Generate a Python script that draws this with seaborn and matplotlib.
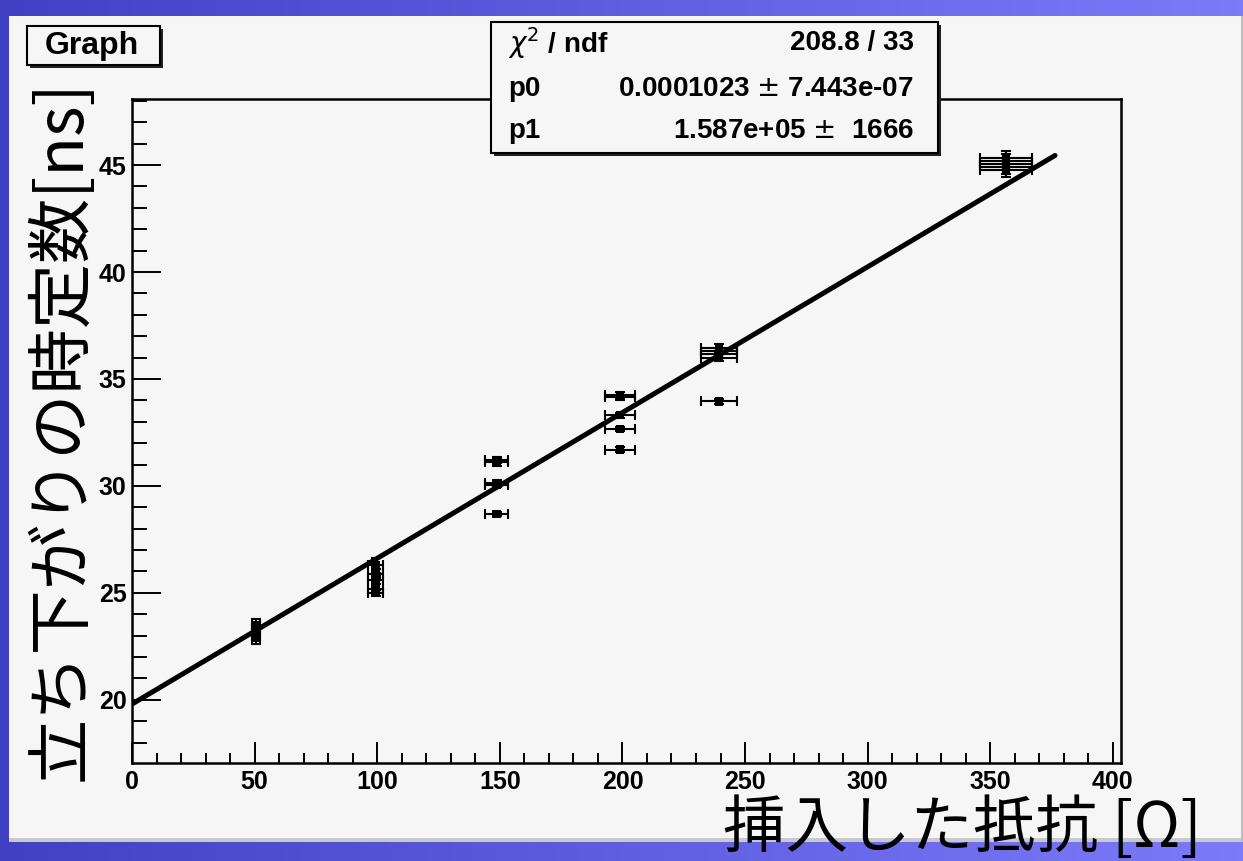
import numpy as np
import pandas as pd
import matplotlib
matplotlib.use("Agg")
import matplotlib.pyplot as plt
from matplotlib.patches import Rectangle
from matplotlib.colors import LinearSegmentedColormap
from matplotlib.ticker import MultipleLocator, FixedLocator
import seaborn as sns

# ---------------- data ----------------
resistance = [50.6, 50.6, 50.6, 50.6,
              99.3, 99.3, 99.3, 99.3, 99.3,
              148.7, 148.7, 148.7, 148.7, 148.7,
              199.0, 199.0, 199.0, 199.0, 199.0,
              239.4, 239.4, 239.4, 239.4, 239.4,
              356.4, 356.4, 356.4, 356.4, 356.4]
resistance_err = [1.5, 1.5, 1.5, 1.5,
                  3.0, 3.0, 3.0, 3.0, 3.0,
                  4.6, 4.6, 4.6, 4.6, 4.6,
                  6.1, 6.1, 6.1, 6.1, 6.1,
                  7.3, 7.3, 7.3, 7.3, 7.3,
                  10.8, 10.8, 10.8, 10.8, 10.8]
time_const = [23.5, 23.3, 23.1, 22.9,
              26.3, 25.9, 25.6, 25.2, 25.0,
              31.2, 31.1, 30.15, 30.05, 28.7,
              34.25, 34.15, 33.3, 32.65, 31.7,
              36.45, 36.3, 36.15, 36.0, 33.95,
              45.35, 45.2, 45.05, 44.9, 44.75]
time_const_err = [0.3, 0.3, 0.3, 0.3,
                  0.35, 0.2, 0.2, 0.2, 0.15,
                  0.15, 0.15, 0.12, 0.12, 0.1,
                  0.12, 0.12, 0.12, 0.1, 0.1,
                  0.2, 0.15, 0.15, 0.15, 0.1,
                  0.3, 0.3, 0.3, 0.3, 0.3]

fit_x = [0.0, 376.4]
fit_y = [19.8, 45.45]

x_ticks = [0, 50, 100, 150, 200, 250, 300, 350, 400]
y_ticks = [20, 25, 30, 35, 40, 45]

stats_rows = [(r"$\chi^{2}$ / ndf", "208.8 / 33"),
              ("p0", "0.0001023 $\\pm$ 7.443e-07"),
              ("p1", "1.587e+05 $\\pm$  1666")]
title_text = "Graph"
y_label = "立ち下がりの時定数[ns]"
x_label = "挿入した抵抗 [Ω]"

# ---------------- style ----------------
sns.set_theme(style="ticks")
plt.rcParams['font.family'] = ['Liberation Sans', 'Noto Sans CJK JP', 'DejaVu Sans']
plt.rcParams['mathtext.fontset'] = 'dejavusans'
plt.rcParams['text.color'] = 'black'
plt.rcParams['xtick.color'] = 'black'
plt.rcParams['ytick.color'] = 'black'
plt.rcParams['xtick.labelcolor'] = 'black'
plt.rcParams['ytick.labelcolor'] = 'black'

W, H = 1243, 861
fig = plt.figure(figsize=(W / 100, H / 100), dpi=100)

def fx(x):
    return x / W

def fy(y):
    return 1 - y / H

# background: blue gradient with light panel
bg = fig.add_axes([0, 0, 1, 1], zorder=-10)
grad = np.linspace(0, 1, 256).reshape(1, -1)
cmap = LinearSegmentedColormap.from_list("bl", ["#4141c4", "#7b7bfa"])
bg.imshow(grad, cmap=cmap, extent=[0, W, H, 0], aspect='auto')
bg.add_patch(Rectangle((9, 16), W - 9, 830 - 16 + 12, fc="#c9c9c9", ec="none"))
bg.add_patch(Rectangle((9, 16), W - 11, 822, fc="#f6f6f6", ec="none"))
bg.add_patch(Rectangle((W - 2, 16), 2, 826, fc="#bdbdbd", ec="none"))
bg.set_xlim(0, W)
bg.set_ylim(H, 0)
bg.axis("off")

# main axes
left, right, top, bottom = 132, 1121, 99, 763.3
ax = fig.add_axes([fx(left), fy(bottom), (right - left) / W, (bottom - top) / H])
ax.set_facecolor("#f6f6f6")

df = pd.DataFrame({"R": resistance, "T": time_const,
                   "Rerr": resistance_err, "Terr": time_const_err})
fit_df = pd.DataFrame({"R": fit_x, "T": fit_y})

sns.lineplot(data=fit_df, x="R", y="T", ax=ax, color="black", lw=3.6,
             sort=False, estimator=None, zorder=3)
ax.errorbar(df["R"], df["T"], xerr=df["Rerr"], yerr=df["Terr"], fmt="none",
            ecolor="black", elinewidth=1.5, capsize=3.5, capthick=1.5, zorder=4)
sns.scatterplot(data=df, x="R", y="T", ax=ax, marker="s", s=36, color="black",
                edgecolor="none", zorder=5)

ax.set_xlim(0, 403.3)
ax.set_ylim(17.03, 48.09)
ax.xaxis.set_major_locator(FixedLocator(x_ticks))
ax.yaxis.set_major_locator(FixedLocator(y_ticks))
ax.xaxis.set_minor_locator(MultipleLocator(10))
ax.yaxis.set_minor_locator(MultipleLocator(1))
ax.set_xlabel("")
ax.set_ylabel("")
for s in ax.spines.values():
    s.set_linewidth(1.8)
    s.set_color("black")
ax.tick_params(axis="x", which="major", direction="in", length=15, width=1.4,
               pad=5, labelsize=18, top=False, colors="black")
ax.tick_params(axis="x", which="minor", direction="in", length=7.5, width=1.4,
               top=False, colors="black")
ax.tick_params(axis="y", which="major", direction="in", length=21, width=1.4,
               pad=4, labelsize=18, right=False, colors="black")
ax.tick_params(axis="y", which="minor", direction="in", length=11, width=1.4,
               right=False, colors="black")
for lab in ax.get_xticklabels() + ax.get_yticklabels():
    lab.set_fontweight("bold")
    lab.set_family("Liberation Sans")

# boxes with shadow
def box(x0, y0, x1, y1):
    fig.add_artist(Rectangle((fx(x0 + 3), fy(y1 + 3)), (x1 - x0) / W, (y1 - y0) / H,
                             transform=fig.transFigure, fc="#222222", ec="none", zorder=6))
    fig.add_artist(Rectangle((fx(x0), fy(y1)), (x1 - x0) / W, (y1 - y0) / H,
                             transform=fig.transFigure, fc="#f6f6f6", ec="black",
                             lw=1.5, zorder=7))

box(27, 26, 160, 65)
fig.text(fx(92), fy(46), title_text, ha="center", va="center", fontsize=23,
         fontweight="bold", zorder=8, color="black")

box(491, 22, 938, 153)
row_y = [43, 89, 131]
for (lt, rt), yy in zip(stats_rows, row_y):
    fig.text(fx(508), fy(yy), lt, ha="left", va="center", fontsize=20,
             fontweight="bold", zorder=8, color="black")
    fig.text(fx(914), fy(yy), rt, ha="right", va="center", fontsize=20,
             fontweight="bold", zorder=8, color="black")

# axis titles
fig.text(fx(62), fy(430), y_label, rotation=90, ha="center", va="center",
         fontsize=47, family=["Noto Sans CJK JP", "DejaVu Sans"], fontweight="normal",
         color="black")
fig.text(fx(962), fy(860.5), x_label, ha="center", va="bottom",
         fontsize=45, family=["Noto Sans CJK JP", "DejaVu Sans"], fontweight="normal",
         color="black")

fig.savefig("out.png", dpi=100)
